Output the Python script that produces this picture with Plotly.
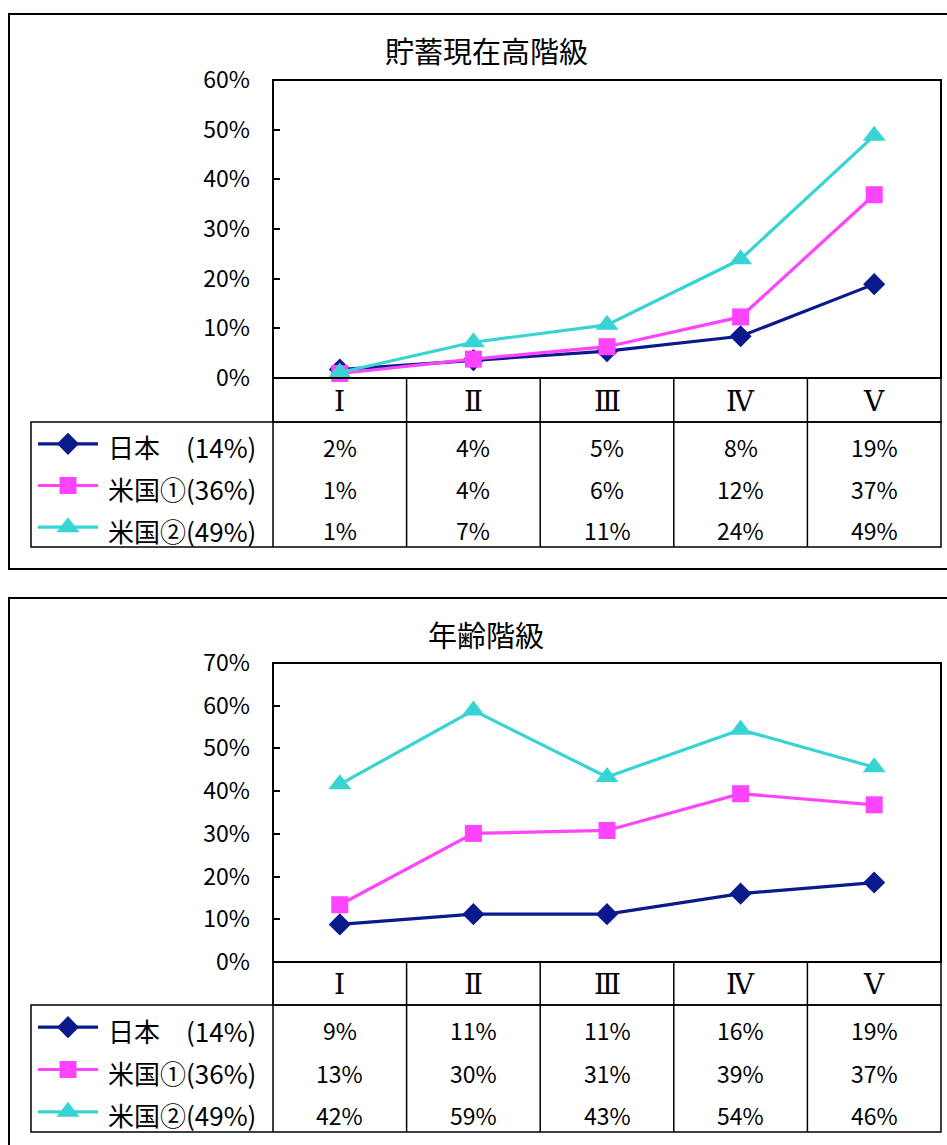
import plotly.graph_objects as go

# ---------------- data ----------------
categories = ["Ⅰ", "Ⅱ", "Ⅲ", "Ⅳ", "Ⅴ"]
series_names = ["日本　(14%)", "米国①(36%)", "米国②(49%)"]

savings_title = "貯蓄現在高階級"
savings_japan = [0.017, 0.036, 0.054, 0.084, 0.189]
savings_us1 = [0.009, 0.038, 0.063, 0.123, 0.369]
savings_us2 = [0.011, 0.072, 0.107, 0.239, 0.488]

age_title = "年齢階級"
age_japan = [0.088, 0.112, 0.112, 0.160, 0.186]
age_us1 = [0.134, 0.301, 0.308, 0.394, 0.368]
age_us2 = [0.416, 0.589, 0.433, 0.544, 0.456]

# ---------------- styles ----------------
W, H = 947, 1145
colors = ["#0a1a8c", "#ff44ff", "#38d4d4"]
symbols = ["diamond", "square", "triangle-up"]
msizes = [17, 17, 20]
FONT = "Noto Sans CJK JP, Noto Sans, sans-serif"
SERIF = "DejaVu Serif, Liberation Serif, Noto Sans CJK JP, serif"


def px(x):
    return x / W


def py(y):
    return 1 - y / H


fig = go.Figure()
shapes = []
annotations = []

charts = [
    dict(title=savings_title, data=[savings_japan, savings_us1, savings_us2], ymax=0.6,
         frame_top=14, frame_bottom=569, title_y=50, plot_top=80, plot_bottom=378,
         head_bottom=422, table_bottom=547),
    dict(title=age_title, data=[age_japan, age_us1, age_us2], ymax=0.7,
         frame_top=598, frame_bottom=1160, title_y=634, plot_top=663, plot_bottom=962,
         head_bottom=1005, table_bottom=1132),
]

plot_left, plot_right = 273, 941
table_left = 31
ncat = len(categories)
colw = (plot_right - plot_left) / ncat

for i, ch in enumerate(charts):
    xa = "x" if i == 0 else "x2"
    ya = "y" if i == 0 else "y2"
    for s in range(3):
        fig.add_trace(go.Scatter(
            x=list(range(ncat)), y=ch["data"][s], mode="lines+markers",
            line=dict(color=colors[s], width=3.2),
            marker=dict(symbol=symbols[s], size=msizes[s], color=colors[s]),
            cliponaxis=False, showlegend=False, xaxis=xa, yaxis=ya, hoverinfo="skip"))
    axsuffix = "" if i == 0 else "2"
    fig.update_layout(**{
        "xaxis" + axsuffix: dict(domain=[px(plot_left), px(plot_right)], range=[-0.5, ncat - 0.5],
                                 showticklabels=False, showgrid=False, zeroline=False,
                                 showline=False, ticks="", anchor=ya, automargin=False),
        "yaxis" + axsuffix: dict(domain=[py(ch["plot_bottom"]), py(ch["plot_top"])],
                                 range=[0, ch["ymax"]], dtick=0.1, tickformat=".0%",
                                 showgrid=False, zeroline=False, showline=False,
                                 ticks="inside", ticklen=7, tickwidth=1.5, tickcolor="black",
                                 ticklabelstandoff=22, automargin=False,
                                 tickfont=dict(family=FONT, size=23, color="black"),
                                 anchor=xa),
    })

    # outer frame
    shapes.append(dict(type="rect", xref="paper", yref="paper",
                       x0=px(9), x1=px(960), y0=py(ch["frame_bottom"]), y1=py(ch["frame_top"]),
                       line=dict(color="black", width=2)))
    # plot border
    shapes.append(dict(type="rect", xref="paper", yref="paper",
                       x0=px(plot_left), x1=px(plot_right), y0=py(ch["plot_bottom"]), y1=py(ch["plot_top"]),
                       line=dict(color="black", width=2)))
    # header row box
    shapes.append(dict(type="rect", xref="paper", yref="paper",
                       x0=px(plot_left), x1=px(plot_right), y0=py(ch["head_bottom"]), y1=py(ch["plot_bottom"]),
                       line=dict(color="black", width=1.5)))
    # table box
    shapes.append(dict(type="rect", xref="paper", yref="paper",
                       x0=px(table_left), x1=px(plot_right), y0=py(ch["table_bottom"]), y1=py(ch["head_bottom"]),
                       line=dict(color="black", width=1.5)))
    # column dividers
    for k in range(ncat):
        xk = plot_left + k * colw
        shapes.append(dict(type="line", xref="paper", yref="paper",
                           x0=px(xk), x1=px(xk), y0=py(ch["table_bottom"]), y1=py(ch["plot_bottom"]),
                           line=dict(color="black", width=1.5)))
    # title
    annotations.append(dict(text=ch["title"], x=px(486), y=py(ch["title_y"]), xref="paper", yref="paper",
                            showarrow=False, xanchor="center", yanchor="middle",
                            font=dict(family=FONT, size=29, color="black")))
    # category header
    for k, c in enumerate(categories):
        annotations.append(dict(text=c, x=px(plot_left + (k + 0.5) * colw),
                                y=py((ch["plot_bottom"] + ch["head_bottom"]) / 2 + 1),
                                xref="paper", yref="paper", showarrow=False,
                                xanchor="center", yanchor="middle",
                                font=dict(family=SERIF, size=28, color="black")))
    # data rows
    rowh = (ch["table_bottom"] - ch["head_bottom"]) / 3
    for s in range(3):
        ry = ch["head_bottom"] + (s + 0.5) * rowh + 4
        annotations.append(dict(text=series_names[s], x=px(106), y=py(ry), xref="paper", yref="paper",
                                showarrow=False, xanchor="left", yanchor="middle",
                                font=dict(family=FONT, size=26, color="black")))
        for k in range(ncat):
            v = ch["data"][s][k]
            annotations.append(dict(text=f"{round(v * 100):d}%", x=px(plot_left + (k + 0.5) * colw),
                                    y=py(ry), xref="paper", yref="paper", showarrow=False,
                                    xanchor="center", yanchor="middle",
                                    font=dict(family=FONT, size=23, color="black")))
        # legend sample (on pixel overlay axis)
        fig.add_trace(go.Scatter(
            x=[38, 68, 98], y=[ry - 3, ry - 3, ry - 3], mode="lines",
            line=dict(color=colors[s], width=3.2), showlegend=False,
            xaxis="x3", yaxis="y3", hoverinfo="skip"))
        fig.add_trace(go.Scatter(
            x=[68], y=[ry - 3], mode="markers",
            marker=dict(symbol=symbols[s], size=msizes[s], color=colors[s]),
            showlegend=False, xaxis="x3", yaxis="y3", hoverinfo="skip"))

fig.update_layout(
    xaxis3=dict(domain=[0, 1], range=[0, W], visible=False, anchor="y3", automargin=False),
    yaxis3=dict(domain=[0, 1], range=[H, 0], visible=False, anchor="x3", automargin=False),
    width=W, height=H,
    margin=dict(l=0, r=0, t=0, b=0, pad=0, autoexpand=False),
    paper_bgcolor="white", plot_bgcolor="rgba(0,0,0,0)",
    shapes=shapes, annotations=annotations,
    font=dict(family=FONT, color="black"),
)

post = ("var gd=document.getElementById('{plot_id}');"
        "document.documentElement.style.margin='0';document.body.style.margin='0';"
        "document.body.style.overflow='hidden';"
        "gd.parentElement.style.position='absolute';gd.parentElement.style.top='0';"
        "gd.parentElement.style.left='0';")
fig.write_html("out.html", post_script=post, config={"displayModeBar": False})
